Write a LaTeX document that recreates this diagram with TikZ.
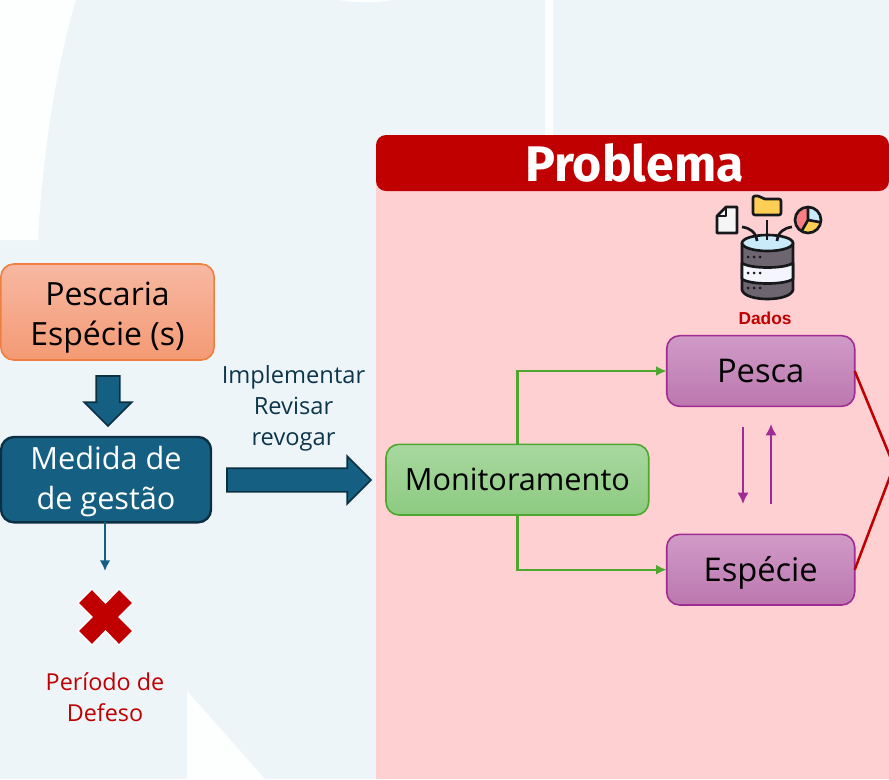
\documentclass[tikz,border=0pt]{standalone}
\usepackage{fontspec}
\setmainfont{Open Sans}
\newfontfamily\labelfont{Liberation Sans}
\newfontfamily\titlefont{Fira Sans}
\usepackage{tikz}
\usetikzlibrary{shapes,shapes.arrows,arrows.meta,positioning}

\definecolor{paleblue}{HTML}{EEF5F9}
\definecolor{nearwhite}{HTML}{FDFEFE}
\definecolor{panelpink}{HTML}{FFD0D2}
\definecolor{darkred}{HTML}{C00000}
\definecolor{teal}{HTML}{156082}
\definecolor{tealdark}{HTML}{0C2F42}
\definecolor{leaf}{HTML}{4EA72E}
\definecolor{plum}{HTML}{A02B93}
\definecolor{tangerine}{HTML}{EF7F3E}
\definecolor{inkline}{HTML}{17181C}
\definecolor{slate}{HTML}{6D6570}
\definecolor{folder}{HTML}{FFCF55}
\definecolor{skyfill}{HTML}{C9EAF8}
\definecolor{piered}{HTML}{F88085}

\begin{document}
\begin{tikzpicture}[
                  x=0.75pt, y=-0.75pt,
                  every node/.style={outer sep=0pt},
                  block/.style={rectangle, draw, rounded corners=9.75pt, align=center, line width=1.2pt, text=black, inner ysep=0pt},
                  peach/.style={block, draw=tangerine, top color={rgb,255:red,247;green,184;blue,162}, bottom color={rgb,255:red,244;green,154;blue,116}, minimum width=160pt, minimum height=72pt, font=\fontsize{24}{30}\selectfont, text height=56.5pt, text depth=7pt},
                  measure/.style={block, draw=tealdark, line width=1.8pt, fill=teal, text=white, minimum width=157.5pt, minimum height=64pt, font=\fontsize{23}{30}\selectfont, text height=51pt, text depth=7pt},
                  monitor/.style={block, draw=leaf, top color={rgb,255:red,168;green,216;blue,160}, bottom color={rgb,255:red,141;green,202;blue,128}, minimum width=197pt, minimum height=53pt, font=\fontsize{23}{30}\selectfont},
                  datum/.style={block, draw=plum, top color={rgb,255:red,208;green,155;blue,199}, bottom color={rgb,255:red,188;green,119;blue,175}, minimum width=141pt, minimum height=53pt, font=\fontsize{24.5}{30}\selectfont, text height=22.2pt, text depth=5pt},
                  bigarrow/.style={single arrow, draw=tealdark, fill=teal, line width=1.3pt, single arrow head extend=9pt, single arrow tip angle=90, minimum height=#1, inner sep=8.25pt, anchor=tip},
                  greenline/.style={draw=leaf, line width=1.7pt, -{Latex[length=8pt,width=7.5pt]}},
                  plumline/.style={draw=plum, line width=1.8pt, -{Latex[length=8.5pt,width=8.5pt]}},
                  redline/.style={draw=darkred, line width=1.9pt},
                  caption/.style={align=center},
                  icon/.style={draw=inkline, line width=2pt, line join=round}
            ]

            % Backdrop
            \useasboundingbox (0,0) rectangle (889,779);
            \fill [paleblue] (0,0) rectangle (889,779);
            \fill [nearwhite] (0,0) -- (76,0) .. controls (55,70) and (42,160) .. (38,240) -- (0,240) -- cycle;
            \fill [nearwhite] (545,0) rectangle (553,135);
            \fill [nearwhite] (187,691) -- (265,779) -- (187,779) -- cycle;
            \fill [nearwhite] (340,0) .. controls (350,3) and (380,3) .. (392,0) -- cycle;
            \fill [panelpink] (376,160) rectangle (889,779);

            % Nodes
            \node [peach] (pescaria) at (107.5,312) {Pescaria\\Espécie (s)};
            \node [measure, below=57.75pt of pescaria, xshift=-1.1pt] (gestao) {Medida de\\de gestão};
            \node [monitor, right=131.25pt of gestao] (monitor) {Monitoramento};
            \node [datum, above right=55pt and 13.5pt of monitor.east, anchor=south west] (pesca) {Pesca};
            \node [datum, below=96pt of pesca] (especie) {Espécie};
            \node [rectangle, draw=none, fill=darkred, rounded corners=7.5pt, minimum width=384.75pt, minimum height=42pt, text=white, font=\titlefont\bfseries\fontsize{37.5}{40}\selectfont] (problema) at (632.5,163) {\hspace*{3pt}Problema};

            % Block arrows
            \node [bigarrow=37.5pt, shape border rotate=270] (down) at (108,426) {};
            \node [bigarrow=108pt] (across) at (371,480) {};

            % Labels
            \node [caption, text=tealdark!85!teal, font=\fontsize{17.75}{23.25}\selectfont] (acoes) at (293.5,408) {Implementar\\Revisar\\revogar};
            \node [caption, text=darkred, font=\fontsize{17.5}{23.25}\selectfont] (defeso) at (105,697) {Período de\\Defeso};
            \node [text=darkred, font=\labelfont\bfseries\fontsize{13}{15}\selectfont] (dados) at (765,318) {Dados};

            % Free ends
            \coordinate (gestaobase) at (105,522);
            \coordinate (cruz) at (105,571);
            \coordinate (vertice) at (894,466);
            \coordinate (descetop) at (743,427);
            \coordinate (desceend) at (743,504);
            \coordinate (sobetop) at (771,424);
            \coordinate (sobeend) at (771,504);

            % Edges
            \path [draw=teal, line width=1.5pt, -{Latex[length=8pt,width=8pt]}] (gestaobase) -- (cruz);
            \path [greenline] (monitor.north) |- (pesca.west);
            \path [greenline] (monitor.south) |- (especie.west);
            \path [plumline] (descetop) -- (desceend);
            \path [plumline] (sobeend) -- (sobetop);
            \path [redline] (pesca.east) -- (vertice);
            \path [redline] (especie.east) -- (vertice);

            % Red cross
            \fill [darkred, draw=white, line width=1pt] (92,589) -- (105.5,603) -- (119,589) -- (133,603) -- (119,617) -- (133,631) -- (119,645) -- (105.5,631) -- (92,645) -- (78,631) -- (92,617) -- (78,603) -- cycle;

            % Data icon: document, folder, chart
            \fill [white!96!black, icon] (726,207) -- (737,207) -- (737,233) -- (717,233) -- (717,216) -- cycle;
            \draw [icon] (717,216) -- (726,216) -- (726,207);
            \fill [folder, icon, rounded corners=1.5pt] (753,196) -- (760,196) -- (763,199) -- (781,199) -- (781,215) -- (753,215) -- cycle;
            \fill [skyfill] (808,220) circle (13);
            \fill [piered] (808,220) -- ++(120:13) arc (120:270:13) -- cycle;
            \fill [folder] (808,220) -- ++(10:13) arc (10:120:13) -- cycle;
            \draw [icon] (808,207) -- (808,220) -- (820.8,222.3) (808,220) -- (801.5,231.3);
            \draw [icon] (808,220) circle (13);

            % Data icon: cylinder
            \fill [slate, icon] (742,243) -- (742,290) .. controls (745,302) and (790,302) .. (793,290) -- (793,243) -- cycle;
            \fill [white!96!blue, icon] (742,263) .. controls (750,269) and (785,269) .. (793,263) -- (793,279) .. controls (785,285) and (750,285) .. (742,279) -- cycle;
            \fill [skyfill, icon] (767.5,243) ellipse (25.5 and 8);
            \foreach \dotx in {748,754,760}{
                  \fill [inkline] (\dotx,257) circle (1.5);
                  \fill [inkline] (\dotx,273) circle (1.5);
                  \fill [inkline] (\dotx,288) circle (1.5);
            }
            \draw [icon] (767,220) -- (767,240);
            \draw [icon] (742,227) .. controls (750,228) and (756,232) .. (757,241);
            \draw [icon] (792,227) .. controls (784,228) and (778,232) .. (777,241);
      \end{tikzpicture}
\end{document}
